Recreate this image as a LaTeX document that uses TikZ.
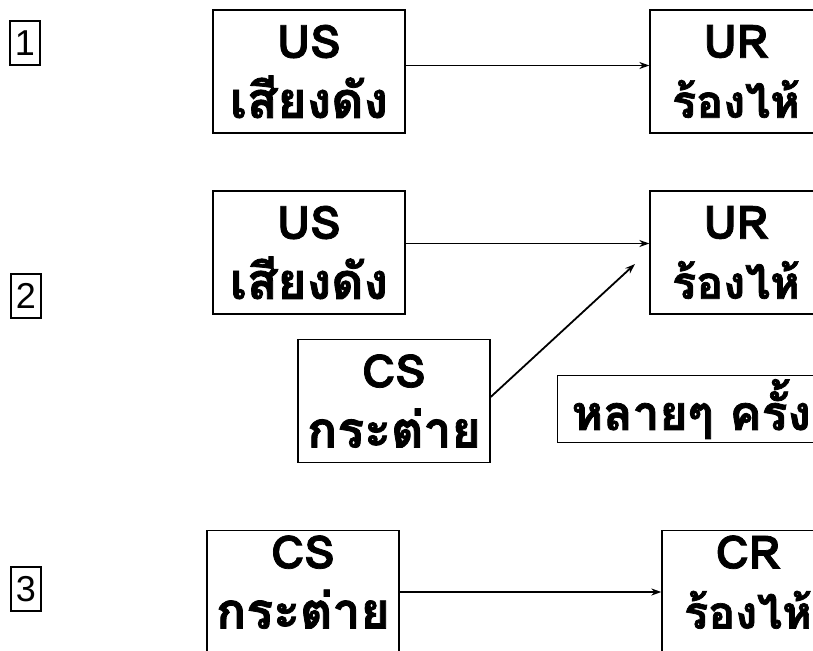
\documentclass[tikz,border=0pt]{standalone}
\usepackage{fontspec}
\newfontfamily\thaifont[Script=Thai, FakeBold=1.6]{Loma}
\newfontfamily\numfont{Liberation Sans}
\newcommand{\lat}{\fontsize{46}{58}\selectfont}
\newcommand{\narrowthai}{\fontsize{45}{58}\selectfont}
\usetikzlibrary{arrows.meta}
\begin{document}
\begin{tikzpicture}[x=1pt,y=-1pt,
  box/.style={draw, line width=1.3pt, rectangle, minimum width=192pt, minimum height=123pt,
    inner sep=0pt, align=center, font=\thaifont\bfseries\fontsize{50}{60}\selectfont},
  rbox/.style={box, minimum width=172pt},
  numbox/.style={draw, line width=1.2pt, minimum width=30pt, minimum height=44pt,
    inner sep=0pt, font=\numfont\fontsize{36}{38}\selectfont},
  notebox/.style={draw, line width=1.3pt, minimum height=64pt, inner xsep=14pt, anchor=west,
    font=\thaifont\bfseries\fontsize{48}{50}\selectfont},
  arr/.style={line width=1.8pt, -{Stealth[length=10pt,width=7pt]}}]
\useasboundingbox (0,0) rectangle (813,650);
\clip (0,0) rectangle (813,650);
% row 1
\node[numbox] (n1) at (25,43) {1};
\node[box] (us1) at (309,71.5) {{\lat US}\\เสียงดัง};
\node[rbox] (ur1) at (736,71.5) {{\lat UR}\\{\narrowthai ร้องไห้}};
\draw[arr] ([yshift=6pt]us1.east) -- ([yshift=6pt]ur1.west);
% row 2
\node[numbox] (n2) at (26,296) {2};
\node[box] (us2) at (309,252.5) {{\lat US}\\เสียงดัง};
\node[rbox] (ur2) at (736,252.5) {{\lat UR}\\{\narrowthai ร้องไห้}};
\draw[arr] ([yshift=9pt]us2.east) -- ([yshift=9pt]ur2.west);
\node[box] (cs2) at (394,401) {{\lat CS}\\กระต่าย};
\coordinate (tip) at (635,264);
\draw[arr] ([yshift=4pt]cs2.east) -- (tip);
\node[notebox] (many) at (557,409) {หลายๆ ครั้ง};
% row 3
\node[numbox] (n3) at (26,589) {3};
\node[box, text depth=20pt] (cs3) at (303,592) {{\lat CS}\\กระต่าย};
\node[rbox, text depth=20pt] (cr3) at (748,592) {{\lat CR}\\{\narrowthai ร้องไห้}};
\draw[arr] (cs3.east) -- (cr3.west);
\end{tikzpicture}
\end{document}
